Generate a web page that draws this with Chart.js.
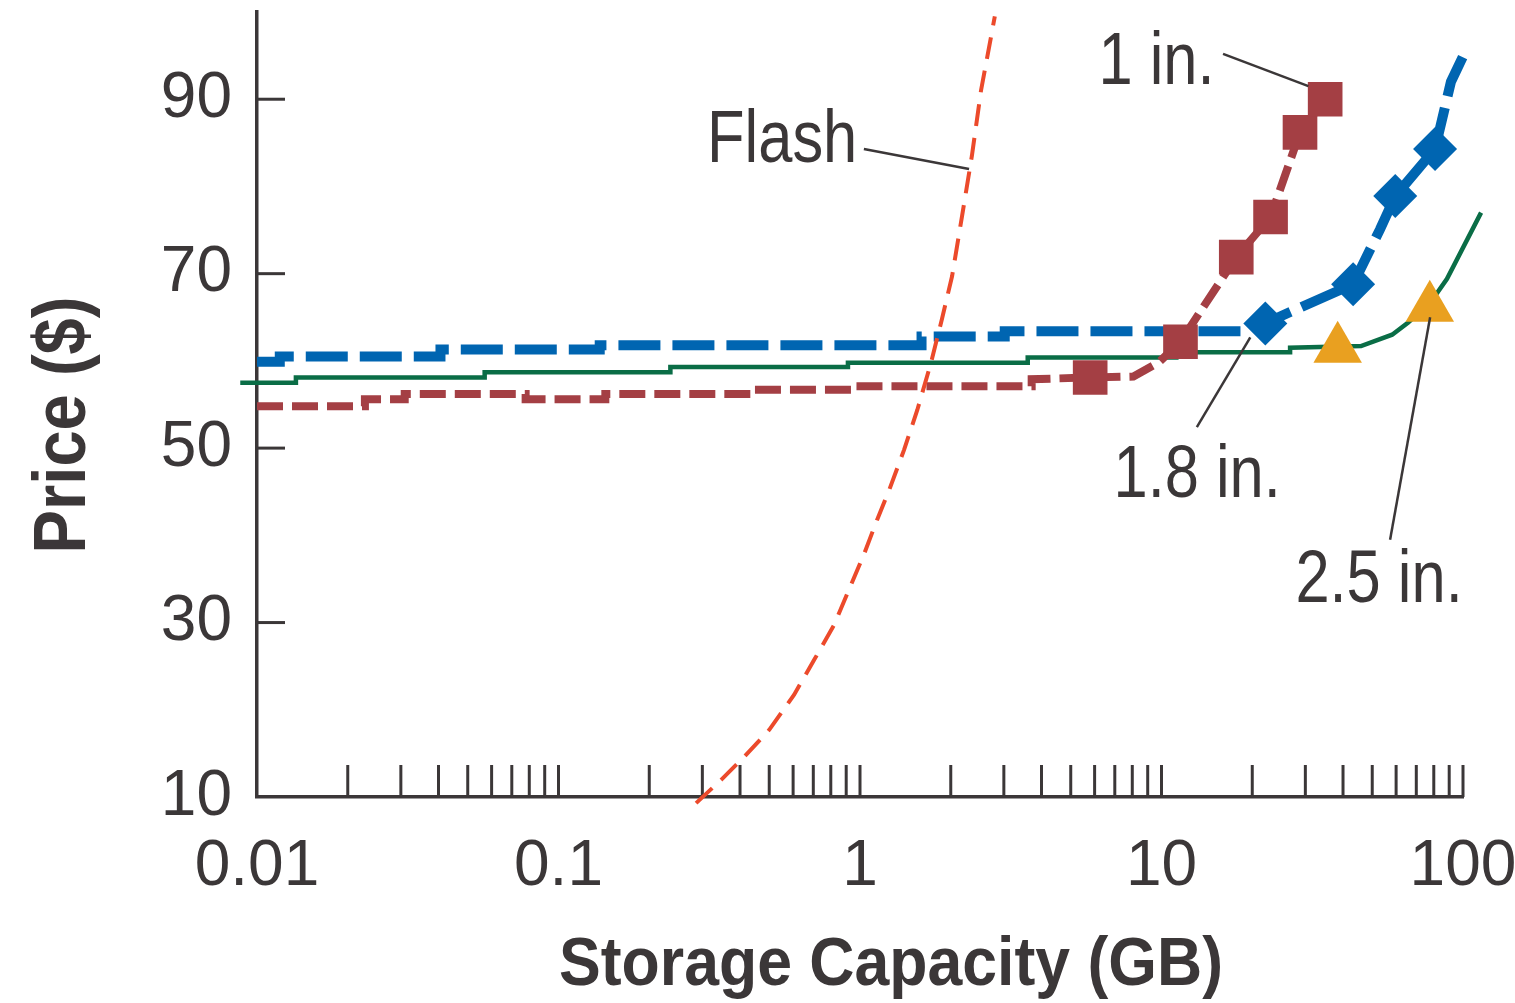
<!DOCTYPE html>
<html lang="en">
<head>
    <meta charset="UTF-8">
    <title>Price vs Storage Capacity</title>
    <script src="https://cdn.jsdelivr.net/npm/chart.js"></script>
    <style>
        body {
            margin: 0;
            padding: 0;
            background-color: #ffffff;
        }
        canvas {
            display: block;
        }
    </style>
</head>
<body>
    <canvas id="myChart" width="1515" height="1003"></canvas>

    <script>
        // ---- data (capacity in GB, price in $) ----
        const flashGB    = [0.286, 0.347, 0.413, 0.50, 0.604, 0.704, 0.82, 0.92, 1.03, 1.14, 1.25, 1.40, 1.55, 1.72, 1.87, 2.02, 2.18, 2.35, 2.52, 2.80];
        const flashPrice = [9.3, 12.0, 14.6, 17.7, 21.7, 25.7, 29.7, 33.8, 37.8, 41.8, 45.2, 49.8, 54.4, 59.8, 64.8, 69.7, 76.6, 83.5, 91.0, 99.5];

        const oneInGB    = [0.01, 0.0228, 0.0228, 0.0309, 0.0309, 0.0778, 0.0778, 0.143, 0.143, 0.438, 0.438, 0.942, 0.942, 3.71, 3.71, 5.8, 8.07, 9.77, 11.56, 17.7, 23.0, 28.8, 34.9];
        const oneInPrice = [54.8, 54.8, 55.6, 55.6, 56.2, 56.2, 55.6, 55.6, 56.2, 56.2, 56.7, 56.7, 57.1, 57.1, 57.9, 58.1, 58.2, 59.8, 62.2, 71.9, 76.5, 86.2, 90.0];
        const oneInMarkGB    = [5.8, 11.56, 17.7, 23.0, 28.8, 34.9];
        const oneInMarkPrice = [58.1, 62.2, 71.9, 76.5, 86.2, 90.0];

        const oneEightGB    = [0.01, 0.0119, 0.0119, 0.0406, 0.0406, 0.137, 0.137, 1.60, 1.60, 3.02, 3.02, 18.7, 22.1, 26.7, 43.2, 53.1, 59.6, 80.8, 91.2, 101.6];
        const oneEightPrice = [59.9, 59.9, 60.5, 60.5, 61.3, 61.3, 61.8, 61.8, 62.8, 62.8, 63.4, 63.4, 64.3, 65.6, 68.8, 75.1, 78.9, 84.3, 92.0, 95.4];
        const oneEightMarkGB    = [22.1, 43.2, 59.6, 80.8];
        const oneEightMarkPrice = [64.3, 68.8, 78.9, 84.3];

        const twoFiveGB    = [0.0088, 0.01346, 0.01346, 0.0569, 0.0569, 0.235, 0.235, 0.912, 0.912, 3.60, 3.60, 11.2, 11.2, 26.7, 26.7, 45.9, 58.2, 65.8, 78.4, 88.5, 114.8];
        const twoFivePrice = [57.5, 57.5, 58.1, 58.1, 58.7, 58.7, 59.3, 59.3, 59.8, 59.8, 60.4, 60.4, 61.0, 61.0, 61.5, 61.7, 63.0, 64.4, 66.8, 69.4, 77.0];
        const twoFiveMarkGB    = [38.4, 77.6];
        const twoFiveMarkPrice = [61.4, 66.1];

        const xTickValues = [0.01, 0.1, 1, 10, 100];
        const xTickLabels = ['0.01', '0.1', '1', '10', '100'];
        const yTickValues = [10, 30, 50, 70, 90];

        // series labels and their leader lines, in data units
        const seriesNames  = ['Flash', '1 in.', '1.8 in.', '2.5 in.'];
        const nameAtGB     = [0.311, 6.18, 6.93, 27.8];
        const nameAtPrice  = [82.8, 91.7, 44.4, 32.4];
        const leaderFromGB    = [1.03, 16.0, 13.1, 57.3];
        const leaderFromPrice = [84.3, 95.2, 52.4, 39.5];
        const leaderToGB      = [2.30, 30.7, 19.7, 77.8];
        const leaderToPrice   = [82.0, 91.5, 62.7, 65.0];

        const ink = '#3b3738';
        const fontFamily = "'Liberation Sans', Arial, sans-serif";

        function pts(xs, ys) {
            return xs.map((v, i) => ({ x: v, y: ys[i] }));
        }

        // keep chart.js from adding room for overhanging tick labels
        function noLabelPadding(scale) {
            scale.paddingTop = 0;
            scale.paddingBottom = 0;
            scale.paddingLeft = 0;
            scale.paddingRight = 0;
        }

        // inward ticks, leader lines, series names and axis titles
        const decorPlugin = {
            id: 'decor',
            beforeDatasetsDraw(chart) {
                const { ctx, scales: { x, y } } = chart;
                ctx.save();
                ctx.strokeStyle = ink;
                ctx.lineWidth = 3;
                for (let d = -2; d < 2; d++) {
                    for (let m = 2; m <= 10; m++) {
                        const px = x.getPixelForValue(m * Math.pow(10, d));
                        ctx.beginPath();
                        ctx.moveTo(px, y.bottom);
                        ctx.lineTo(px, y.bottom - 32);
                        ctx.stroke();
                    }
                }
                yTickValues.forEach(v => {
                    if (v === y.min) return;
                    const py = y.getPixelForValue(v);
                    ctx.beginPath();
                    ctx.moveTo(x.left, py);
                    ctx.lineTo(x.left + 28, py);
                    ctx.stroke();
                });
                ctx.restore();
            },
            afterDatasetsDraw(chart) {
                const { ctx, scales: { x, y } } = chart;
                ctx.save();
                ctx.strokeStyle = ink;
                ctx.lineWidth = 2.5;
                seriesNames.forEach((name, i) => {
                    ctx.beginPath();
                    ctx.moveTo(x.getPixelForValue(leaderFromGB[i]), y.getPixelForValue(leaderFromPrice[i]));
                    ctx.lineTo(x.getPixelForValue(leaderToGB[i]), y.getPixelForValue(leaderToPrice[i]));
                    ctx.stroke();
                });
                ctx.fillStyle = ink;
                ctx.font = '74px ' + fontFamily;
                ctx.textAlign = 'left';
                ctx.textBaseline = 'alphabetic';
                const sx = 0.83;
                seriesNames.forEach((name, i) => {
                    const px = x.getPixelForValue(nameAtGB[i]);
                    const py = y.getPixelForValue(nameAtPrice[i]);
                    ctx.save();
                    ctx.translate(px, py);
                    ctx.scale(sx, 1);
                    ctx.fillText(name, 0, 0);
                    ctx.restore();
                });
                ctx.restore();
            },
            afterDraw(chart) {
                const { ctx } = chart;
                ctx.save();
                ctx.fillStyle = ink;
                ctx.textAlign = 'center';
                ctx.textBaseline = 'alphabetic';
                // x title
                ctx.font = 'bold 68px ' + fontFamily;
                ctx.save();
                ctx.translate(891, 985);
                ctx.scale(0.92, 1);
                ctx.fillText('Storage Capacity (GB)', 0, 0);
                ctx.restore();
                // y title
                ctx.font = 'bold 74px ' + fontFamily;
                ctx.save();
                ctx.translate(85, 425);
                ctx.rotate(-Math.PI / 2);
                ctx.scale(0.88, 1);
                ctx.fillText('Price ($)', 0, 0);
                ctx.restore();
                ctx.restore();
            }
        };

        const ctx = document.getElementById('myChart').getContext('2d');

        const myChart = new Chart(ctx, {
            type: 'scatter',
            data: {
                datasets: [
                    {
                        label: '2.5 in. markers',
                        data: pts(twoFiveMarkGB, twoFiveMarkPrice),
                        showLine: false,
                        pointStyle: 'triangle',
                        pointRadius: 28,
                        backgroundColor: '#e9a020',
                        borderWidth: 0,
                        clip: false
                    },
                    {
                        label: '1.8 in. markers',
                        data: pts(oneEightMarkGB, oneEightMarkPrice),
                        showLine: false,
                        pointStyle: 'rectRot',
                        pointRadius: 22,
                        backgroundColor: '#0065b1',
                        borderWidth: 0,
                        clip: false
                    },
                    {
                        label: '1 in. markers',
                        data: pts(oneInMarkGB, oneInMarkPrice),
                        showLine: false,
                        pointStyle: 'rect',
                        pointRadius: 24.5,
                        backgroundColor: '#a43f44',
                        borderWidth: 0,
                        clip: false
                    },
                    {
                        label: 'Flash',
                        data: pts(flashGB, flashPrice),
                        showLine: true,
                        borderColor: '#ec4a2b',
                        borderWidth: 4,
                        borderDash: [22, 12],
                        pointRadius: 0,
                        clip: false
                    },
                    {
                        label: '1.8 in.',
                        data: pts(oneEightGB, oneEightPrice),
                        showLine: true,
                        borderColor: '#0065b1',
                        borderWidth: 10,
                        borderDash: [42, 12],
                        pointRadius: 0,
                        clip: false
                    },
                    {
                        label: '1 in.',
                        data: pts(oneInGB, oneInPrice),
                        showLine: true,
                        borderColor: '#a43f44',
                        borderWidth: 8,
                        borderDash: [26, 9],
                        pointRadius: 0,
                        clip: false
                    },
                    {
                        label: '2.5 in.',
                        data: pts(twoFiveGB, twoFivePrice),
                        showLine: true,
                        borderColor: '#0a6d46',
                        borderWidth: 4.5,
                        pointRadius: 0,
                        clip: false
                    }
                ]
            },
            options: {
                responsive: false,
                animation: false,
                devicePixelRatio: 1,
                layout: {
                    autoPadding: false,
                    padding: { top: 12, right: 52, left: 0, bottom: 0 }
                },
                plugins: {
                    legend: { display: false },
                    tooltip: { enabled: false }
                },
                scales: {
                    x: {
                        type: 'logarithmic',
                        position: 'bottom',
                        min: 0.01,
                        max: 100,
                        grid: { display: false },
                        border: { display: true, color: ink, width: 3.5 },
                        afterBuildTicks: scale => {
                            scale.ticks = xTickValues.map(v => ({ value: v }));
                        },
                        afterFit: scale => {
                            scale.height = 206;
                            noLabelPadding(scale);
                        },
                        ticks: {
                            autoSkip: false,
                            maxRotation: 0,
                            padding: 24,
                            color: ink,
                            font: { family: fontFamily, size: 64 },
                            callback: (value, index) => xTickLabels[index]
                        }
                    },
                    y: {
                        type: 'linear',
                        min: 10,
                        max: 100,
                        grid: { display: false, drawTicks: false },
                        border: { display: true, color: ink, width: 3.5 },
                        afterBuildTicks: scale => {
                            scale.ticks = yTickValues.map(v => ({ value: v }));
                        },
                        afterFit: scale => {
                            scale.width = 257;
                            noLabelPadding(scale);
                        },
                        ticks: {
                            padding: 25,
                            color: ink,
                            font: { family: fontFamily, size: 64 }
                        }
                    }
                }
            },
            plugins: [decorPlugin]
        });
    </script>
</body>
</html>
